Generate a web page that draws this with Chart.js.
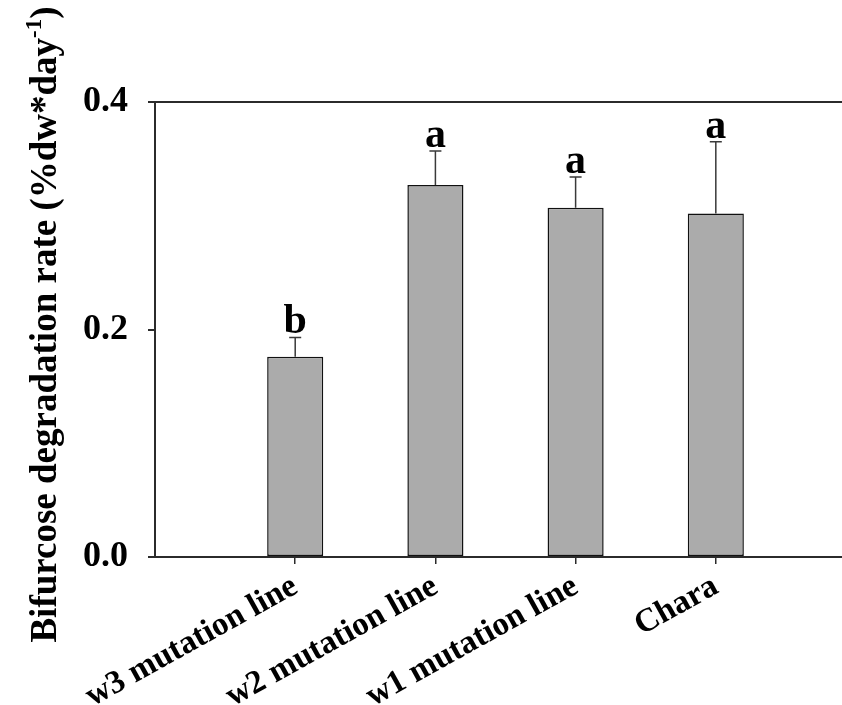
<!DOCTYPE html>
<html>
<head>
<meta charset="utf-8">
<script src="https://cdn.jsdelivr.net/npm/chart.js@4.4.1/dist/chart.umd.min.js"></script>
<style>
  html, body { margin: 0; padding: 0; background: #ffffff; }
  canvas { display: block; }
</style>
</head>
<body>
<canvas id="chart" width="842" height="705"></canvas>
<script>
// Degradation rate per line, with standard error and significance group
const categories = ['w3 mutation line', 'w2 mutation line', 'w1 mutation line', 'Chara'];
const rates = [0.176, 0.327, 0.307, 0.302];
const errors = [0.017, 0.030, 0.027, 0.063];
const letters = ['b', 'a', 'a', 'a'];
const yTickValues = [0.0, 0.2, 0.4];

const SERIF = '"Liberation Serif", "Times New Roman", serif';
const AXIS_COLOR = '#2b2b2b';

// Upward error whiskers and group letters above each bar
const errorBarPlugin = {
  id: 'errorBars',
  afterDatasetsDraw(chart) {
    const { ctx } = chart;
    const yScale = chart.scales.y;
    const meta = chart.getDatasetMeta(0);
    ctx.save();
    meta.data.forEach((bar, i) => {
      const x = bar.x;
      const yTop = yScale.getPixelForValue(rates[i]);
      const yCap = yScale.getPixelForValue(rates[i] + errors[i]);
      ctx.strokeStyle = '#3a3a3a';
      ctx.lineWidth = 1.5;
      ctx.beginPath();
      ctx.moveTo(x, yTop);
      ctx.lineTo(x, yCap);
      ctx.moveTo(x - 6, yCap);
      ctx.lineTo(x + 6, yCap);
      ctx.stroke();

      ctx.fillStyle = '#000';
      ctx.font = 'bold 42px ' + SERIF;
      ctx.textAlign = 'center';
      ctx.textBaseline = 'alphabetic';
      ctx.fillText(letters[i], x, yCap - 4);
    });
    ctx.restore();
  }
};

// Vertical axis title with a superscript exponent
const yTitlePlugin = {
  id: 'yTitle',
  afterDraw(chart) {
    const { ctx, chartArea } = chart;
    const main = 'Bifurcose degradation rate (%dw*day';
    const sup = '-1';
    const close = ')';
    const mainFont = 'bold 37px ' + SERIF;
    const supFont = 'bold 23px ' + SERIF;
    ctx.save();
    ctx.font = mainFont;
    const wMain = ctx.measureText(main).width;
    const wClose = ctx.measureText(close).width;
    ctx.font = supFont;
    const wSup = ctx.measureText(sup).width;
    const total = wMain + wSup + wClose;
    const cy = (chartArea.top + chartArea.bottom) / 2 - 5;
    ctx.translate(56, cy);
    ctx.rotate(-Math.PI / 2);
    ctx.fillStyle = '#000';
    ctx.textAlign = 'left';
    ctx.textBaseline = 'alphabetic';
    let x = -total / 2;
    ctx.font = mainFont;
    ctx.fillText(main, x, 0);
    x += wMain;
    ctx.font = supFont;
    ctx.fillText(sup, x, -15);
    x += wSup;
    ctx.font = mainFont;
    ctx.fillText(close, x, 0);
    ctx.restore();
  }
};

new Chart(document.getElementById('chart'), {
  type: 'bar',
  data: {
    datasets: [{
      data: rates.map((v, i) => ({ x: i + 1, y: v })),
      backgroundColor: '#ababab',
      borderColor: '#111111',
      borderWidth: 1.5,
      borderSkipped: false,
      barPercentage: 0.4,
      categoryPercentage: 1.0
    }]
  },
  options: {
    responsive: false,
    animation: false,
    devicePixelRatio: 1,
    layout: { padding: { top: 102, right: 0, bottom: 0, left: 0 } },
    plugins: {
      legend: { display: false },
      tooltip: { enabled: false }
    },
    scales: {
      x: {
        type: 'linear',
        offset: false,
        min: 0,
        max: 4.9,
        afterBuildTicks(scale) {
          scale.ticks = categories.map((c, i) => ({ value: i + 1 }));
        },
        afterFit(scale) {
          scale.height = 148;
          scale.paddingLeft = 0;
          scale.paddingRight = 0;
        },
        ticks: {
          autoSkip: false,
          minRotation: 29,
          maxRotation: 29,
          padding: 3,
          color: '#000',
          font: { family: SERIF, size: 33, weight: 'bold' },
          callback: (value, index) => categories[index]
        },
        grid: {
          offset: false,
          drawOnChartArea: false,
          drawTicks: true,
          tickLength: 7,
          tickColor: AXIS_COLOR,
          lineWidth: 1.5
        },
        border: { display: true, color: AXIS_COLOR, width: 2 }
      },
      y: {
        type: 'linear',
        min: 0,
        max: 0.4,
        afterBuildTicks(scale) {
          scale.ticks = yTickValues.map(v => ({ value: v }));
        },
        afterFit(scale) {
          scale.width = 155;
        },
        ticks: {
          padding: 20,
          color: '#000',
          font: { family: SERIF, size: 36, weight: 'bold' },
          callback: v => Number(v).toFixed(1)
        },
        grid: {
          drawOnChartArea: true,
          drawTicks: true,
          tickLength: 7,
          lineWidth: 2,
          color: ctx => (ctx.tick && ctx.tick.value === 0.4 ? AXIS_COLOR : 'rgba(0,0,0,0)'),
          tickColor: AXIS_COLOR
        },
        border: { display: true, color: AXIS_COLOR, width: 2 }
      }
    }
  },
  plugins: [errorBarPlugin, yTitlePlugin]
});
</script>
</body>
</html>
